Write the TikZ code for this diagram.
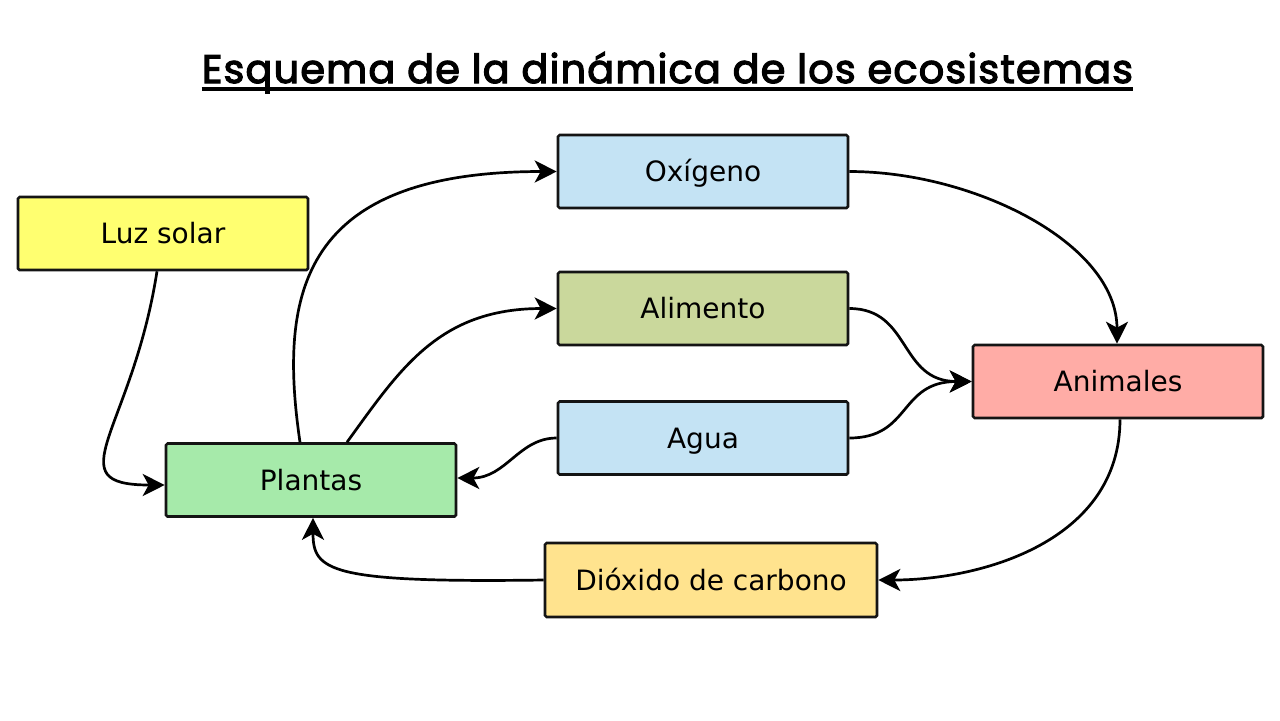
\documentclass[tikz,border=0pt]{standalone}
\usepackage{fontspec}
\setmainfont{DejaVu Sans}
\newfontfamily\titlefont{Poppins}[LetterSpace=3,FakeBold=3]
\usetikzlibrary{arrows.meta,calc}
\definecolor{cLuz}{HTML}{FFFF70}
\definecolor{cBlue}{HTML}{C4E3F4}
\definecolor{cAli}{HTML}{CAD89C}
\definecolor{cPlant}{HTML}{A6EAAA}
\definecolor{cAnim}{HTML}{FFACA6}
\definecolor{cDio}{HTML}{FFE38E}
\begin{document}
\begin{tikzpicture}[x=0.5pt,y=-0.5pt,
  box/.style={draw=black!92, line width=1.3pt, rounded corners=0.8pt,
    minimum width=145pt, minimum height=36.5pt, inner sep=0pt,
    text height=10.2pt, text depth=0pt,
    font=\fontsize{14}{16}\selectfont, text=black},
  conn/.style={line width=1.35pt, draw=black,
    -{Stealth[length=11pt,width=11pt,inset=3pt]}}]
\useasboundingbox[fill=white] (0,0) rectangle (1280,720);

% title
\node[anchor=base, inner sep=0pt, font=\titlefont\fontsize{23.5}{26}\selectfont] (title) at (667.5,83)
  {\resizebox{465.5pt}{!}{Esquema de la dinámica de los ecosistemas}};
\draw[line width=1.6pt] ($(title.base west)+(0,6)$) -- ($(title.base east)+(0,6)$);

% boxes
\node[box, fill=cLuz]   (luz)   at (163,233.5) {Luz solar};
\node[box, fill=cBlue]  (oxi)   at (703,171.5) {Oxígeno};
\node[box, fill=cAli]   (ali)   at (703,308.5) {Alimento};
\node[box, fill=cBlue]  (agua)  at (703,438)   {Agua};
\node[box, fill=cPlant] (plant) at (311,480)   {Plantas};
\node[box, fill=cAnim]  (anim)  at (1118,381.5) {Animales};
\node[box, fill=cDio, minimum width=166pt, minimum height=37pt] (dio) at (711,580) {Dióxido de carbono};

% connectors
\draw[conn] ($(luz.south)+(-6,0)$) .. controls +(-25,160) and +(-110,0) .. ($(plant.west)+(0,5)$);
\draw[conn] ($(plant.north)+(-11,0)$) .. controls +(-22,-150) and +(-255,0) .. (oxi.west);
\draw[conn] ($(plant.north)+(36,0)$) .. controls +(53,-73) and +(-118,0) .. (ali.west);
\draw[conn] (agua.west) .. controls +(-38,0) and +(49,0) .. ($(plant.east)+(0,-2)$);
\draw[conn] (oxi.east) .. controls +(125,0) and +(0,-100) .. ($(anim.north)+(-1,0)$);
\draw[conn] (ali.east) .. controls +(62,0) and +(-73,0) .. (anim.west);
\draw[conn] (agua.east) .. controls +(62,0) and +(-73,0) .. (anim.west);
\draw[conn] ($(anim.south)+(2,0)$) .. controls +(0,122) and +(103,0) .. (dio.east);
\draw[conn] (dio.west) .. controls +(-215,3) and +(0,53) .. ($(plant.south)+(2,0)$);
\end{tikzpicture}
\end{document}
